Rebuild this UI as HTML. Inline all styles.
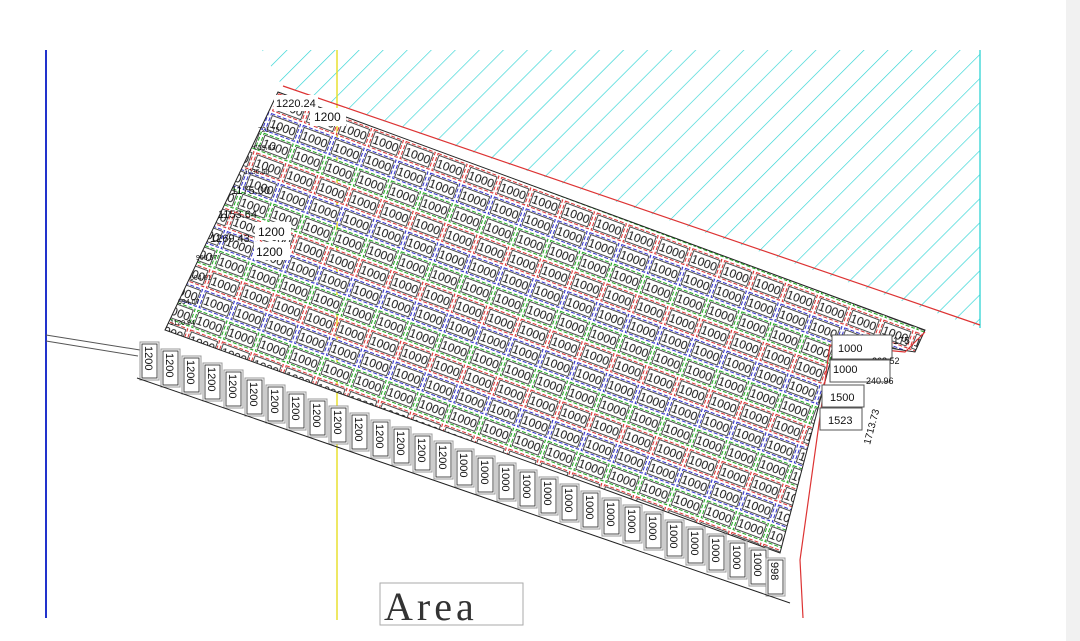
<!DOCTYPE html>
<html><head><meta charset="utf-8"><style>
html,body{margin:0;padding:0;background:#fff;}
svg{display:block;}
</style></head><body>
<svg width="1080" height="641" viewBox="0 0 1080 641" xmlns="http://www.w3.org/2000/svg" font-family="Liberation Sans, sans-serif">
<defs>
<pattern id="hatch" width="17" height="17" patternUnits="userSpaceOnUse" patternTransform="rotate(45)">
<line x1="0" y1="0" x2="0" y2="17" stroke="#2fd4d4" stroke-width="1.3"/>
</pattern>
<pattern id="cells" width="34" height="63" patternUnits="userSpaceOnUse" patternTransform="translate(278,92) rotate(20.5)">
<rect x="1.5" y="1.5" width="31" height="18" fill="#fff" stroke="#d33" stroke-width="1" stroke-dasharray="4 2"/>
<rect x="3" y="3" width="28" height="15" fill="none" stroke="#222" stroke-width="0.8"/>
<text x="17" y="15" font-size="12" text-anchor="middle" fill="#111">1000</text>
<rect x="1.5" y="22.5" width="31" height="18" fill="#fff" stroke="#33c" stroke-width="1" stroke-dasharray="4 2"/>
<rect x="3" y="24" width="28" height="15" fill="none" stroke="#222" stroke-width="0.8"/>
<text x="17" y="36" font-size="12" text-anchor="middle" fill="#111">1000</text>
<rect x="1.5" y="43.5" width="31" height="18" fill="#fff" stroke="#2a2" stroke-width="1" stroke-dasharray="4 2"/>
<rect x="3" y="45" width="28" height="15" fill="none" stroke="#222" stroke-width="0.8"/>
<text x="17" y="57" font-size="12" text-anchor="middle" fill="#111">1000</text>
</pattern>
<g id="v"><rect x="0" y="0" width="19" height="38" fill="#fff" stroke="#999"/><rect x="2" y="2" width="15" height="34" fill="none" stroke="#222" stroke-width="0.8"/></g>
</defs>
<rect width="1080" height="641" fill="#fff"/>
<rect x="1066" y="0" width="14" height="641" fill="#f1f1f1"/>
<polygon points="262,50 980,50 980,328 282,86" fill="url(#hatch)"/>
<line x1="980" y1="50" x2="980" y2="328" stroke="#2fd4d4" stroke-width="1.3"/>
<line x1="46" y1="50" x2="46" y2="618" stroke="#2233cc" stroke-width="2"/>
<line x1="337" y1="50" x2="337" y2="620" stroke="#e8e030" stroke-width="1.5"/>
<line x1="46" y1="335" x2="140" y2="350" stroke="#555" stroke-width="1"/>
<line x1="46" y1="341" x2="138" y2="356" stroke="#555" stroke-width="1"/>
<polygon points="278,92 925,330 915,352 836,340 780,553 165,330" fill="url(#cells)" stroke="#222" stroke-width="1"/>
<g font-size="11" fill="#111">
<g transform="translate(140,342)"><use href="#v"/><text x="5" y="4" transform="rotate(90 5 4)">1200</text></g>
<g transform="translate(161,349)"><use href="#v"/><text x="5" y="4" transform="rotate(90 5 4)">1200</text></g>
<g transform="translate(182,356)"><use href="#v"/><text x="5" y="4" transform="rotate(90 5 4)">1200</text></g>
<g transform="translate(203,363)"><use href="#v"/><text x="5" y="4" transform="rotate(90 5 4)">1200</text></g>
<g transform="translate(224,370)"><use href="#v"/><text x="5" y="4" transform="rotate(90 5 4)">1200</text></g>
<g transform="translate(245,378)"><use href="#v"/><text x="5" y="4" transform="rotate(90 5 4)">1200</text></g>
<g transform="translate(266,385)"><use href="#v"/><text x="5" y="4" transform="rotate(90 5 4)">1200</text></g>
<g transform="translate(287,392)"><use href="#v"/><text x="5" y="4" transform="rotate(90 5 4)">1200</text></g>
<g transform="translate(308,399)"><use href="#v"/><text x="5" y="4" transform="rotate(90 5 4)">1200</text></g>
<g transform="translate(329,406)"><use href="#v"/><text x="5" y="4" transform="rotate(90 5 4)">1200</text></g>
<g transform="translate(350,413)"><use href="#v"/><text x="5" y="4" transform="rotate(90 5 4)">1200</text></g>
<g transform="translate(371,420)"><use href="#v"/><text x="5" y="4" transform="rotate(90 5 4)">1200</text></g>
<g transform="translate(392,427)"><use href="#v"/><text x="5" y="4" transform="rotate(90 5 4)">1200</text></g>
<g transform="translate(413,434)"><use href="#v"/><text x="5" y="4" transform="rotate(90 5 4)">1200</text></g>
<g transform="translate(434,441)"><use href="#v"/><text x="5" y="4" transform="rotate(90 5 4)">1200</text></g>
<g transform="translate(455,449)"><use href="#v"/><text x="5" y="4" transform="rotate(90 5 4)">1000</text></g>
<g transform="translate(476,456)"><use href="#v"/><text x="5" y="4" transform="rotate(90 5 4)">1000</text></g>
<g transform="translate(497,463)"><use href="#v"/><text x="5" y="4" transform="rotate(90 5 4)">1000</text></g>
<g transform="translate(518,470)"><use href="#v"/><text x="5" y="4" transform="rotate(90 5 4)">1000</text></g>
<g transform="translate(539,477)"><use href="#v"/><text x="5" y="4" transform="rotate(90 5 4)">1000</text></g>
<g transform="translate(560,484)"><use href="#v"/><text x="5" y="4" transform="rotate(90 5 4)">1000</text></g>
<g transform="translate(581,491)"><use href="#v"/><text x="5" y="4" transform="rotate(90 5 4)">1000</text></g>
<g transform="translate(602,498)"><use href="#v"/><text x="5" y="4" transform="rotate(90 5 4)">1000</text></g>
<g transform="translate(623,505)"><use href="#v"/><text x="5" y="4" transform="rotate(90 5 4)">1000</text></g>
<g transform="translate(644,512)"><use href="#v"/><text x="5" y="4" transform="rotate(90 5 4)">1000</text></g>
<g transform="translate(665,520)"><use href="#v"/><text x="5" y="4" transform="rotate(90 5 4)">1000</text></g>
<g transform="translate(686,527)"><use href="#v"/><text x="5" y="4" transform="rotate(90 5 4)">1000</text></g>
<g transform="translate(707,534)"><use href="#v"/><text x="5" y="4" transform="rotate(90 5 4)">1000</text></g>
<g transform="translate(728,541)"><use href="#v"/><text x="5" y="4" transform="rotate(90 5 4)">1000</text></g>
<g transform="translate(749,548)"><use href="#v"/><text x="5" y="4" transform="rotate(90 5 4)">1000</text></g>
<g transform="translate(766,558)"><use href="#v"/><text x="5" y="4" transform="rotate(90 5 4)">998</text></g>
</g>
<line x1="137" y1="378" x2="790" y2="603" stroke="#222" stroke-width="1"/>
<polyline points="283,86 980,325" fill="none" stroke="#d33" stroke-width="1.2"/>
<polyline points="925,332 905,352 830,345 800,560 803,618" fill="none" stroke="#d33" stroke-width="1.2"/>
<g font-size="11" fill="#111">
<rect x="832" y="335" width="60" height="24" fill="#fff" stroke="#555"/><text x="838" y="352">1000</text><text x="872" y="364" font-size="9">268.52</text>
<rect x="830" y="360" width="60" height="22" fill="#fff" stroke="#555"/><text x="833" y="373">1000</text><text x="866" y="384" font-size="9">240.96</text>
<rect x="822" y="385" width="42" height="22" fill="#fff" stroke="#555"/><text x="830" y="401">1500</text>
<rect x="820" y="408" width="42" height="22" fill="#fff" stroke="#555"/><text x="828" y="424">1523</text>
<text x="870" y="445" font-size="10" transform="rotate(-75 870 445)">1713.73</text>
<rect x="274" y="95" width="44" height="16" fill="#fff"/><text x="276" y="107">1220.24</text>
<text x="258" y="132" font-size="7">721.75</text>
<text x="254" y="150" font-size="7">659.63</text>
<text x="244" y="174" font-size="7">1036.56</text>
<text x="231" y="194">1175.00</text>
<text x="218" y="218">1153.64</text>
<text x="210" y="242">1269.43</text>
<text x="196" y="260" font-size="7">966.57</text>
<text x="190" y="280" font-size="7">604.61</text>
<text x="178" y="304" font-size="7">994.07</text>
<text x="170" y="325" font-size="7">1120.94</text>
<rect x="310" y="108" width="36" height="18" fill="#fff"/><text x="314" y="121" font-size="12">1200</text>
<rect x="255" y="222" width="36" height="18" fill="#fff"/><text x="258" y="236" font-size="12">1200</text>
<rect x="254" y="242" width="36" height="18" fill="#fff"/><text x="256" y="256" font-size="12">1200</text>
<text x="893" y="344" font-size="10">175</text>
</g>
<rect x="380" y="583" width="143" height="42" fill="#fff" stroke="#aaa"/>
<text x="384" y="620" font-family="Liberation Serif, serif" font-size="40" letter-spacing="4" fill="#333">Area</text>
</svg>
</body></html>
